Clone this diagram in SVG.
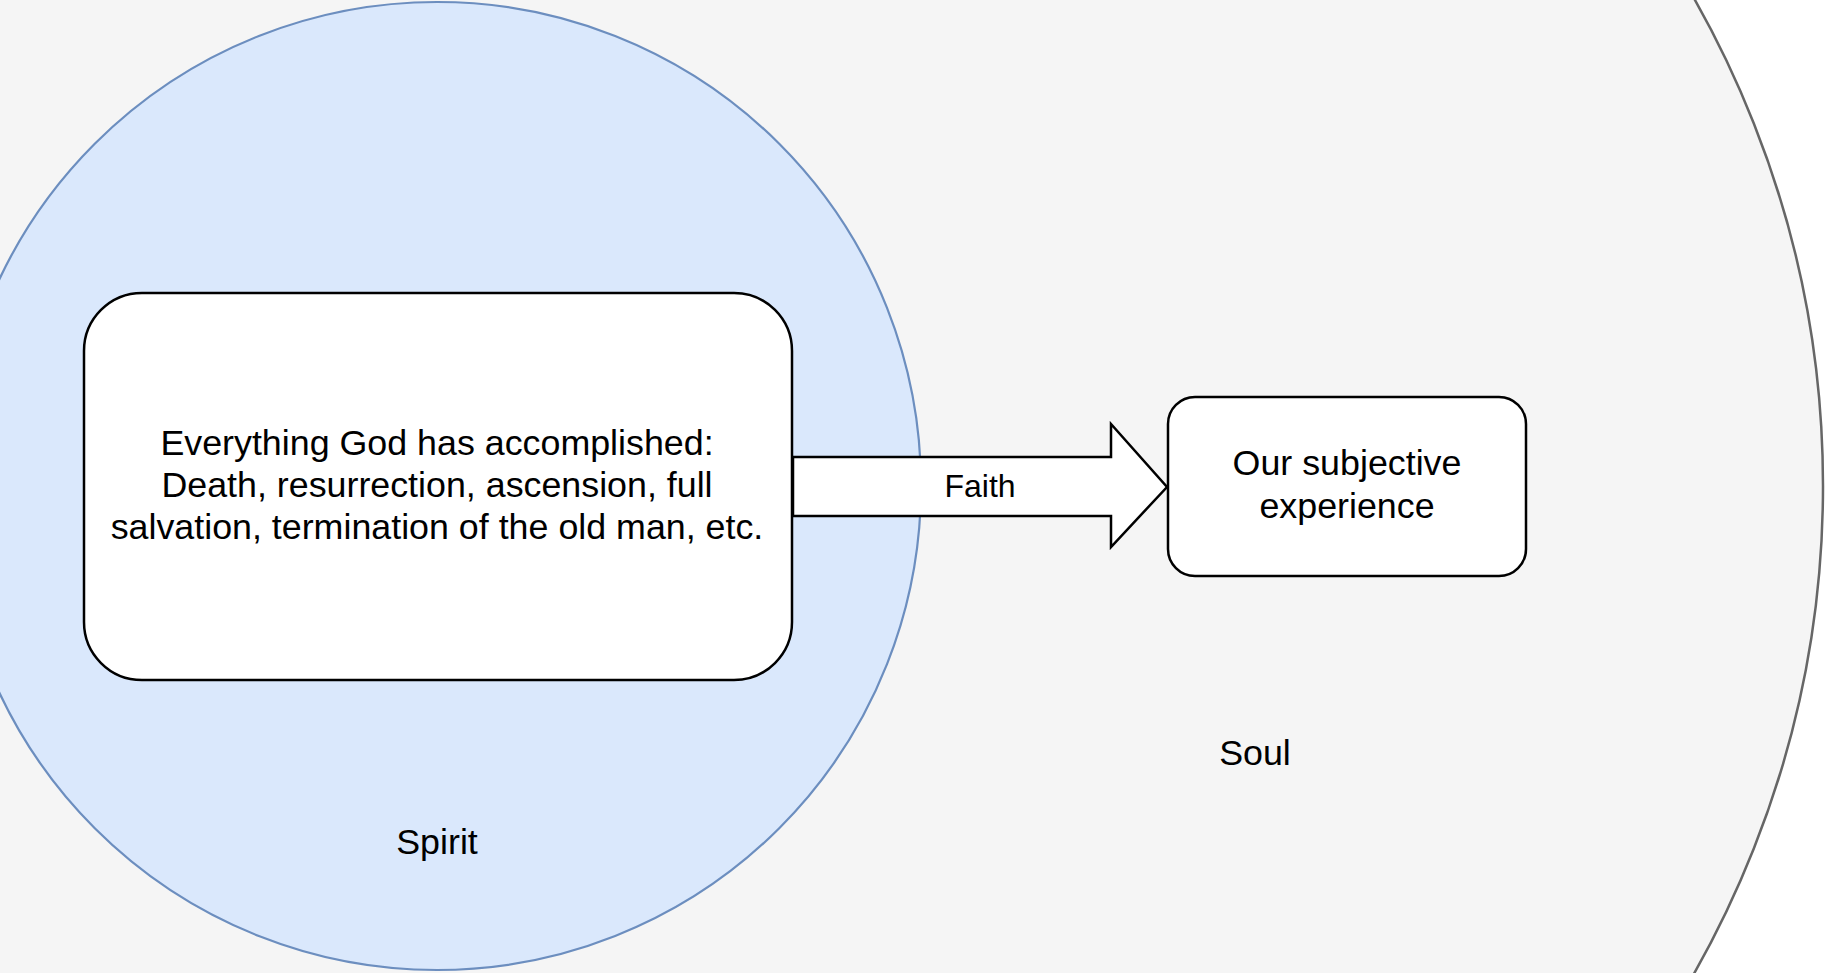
<svg xmlns="http://www.w3.org/2000/svg" width="1838" height="973" viewBox="0 0 1838 973">
<style>
.t{font-family:"Liberation Sans",Arial,sans-serif;fill:#000;text-anchor:middle}
.big{font-size:35.8px}
.lbl{font-size:32px}
.box{fill:#ffffff;stroke:#000;stroke-width:2.5}
</style>
<rect x="0" y="0" width="1838" height="973" fill="#ffffff"/>
<g id="soul">
<circle cx="838" cy="486" r="985" fill="#f5f5f5" stroke="#666666" stroke-width="2.5"/>
<text class="t big" x="1255" y="765">Soul</text>
</g>
<g id="spirit">
<circle cx="437" cy="486" r="484" fill="#dae8fc" stroke="#6c8ebf" stroke-width="2.2"/>
<text class="t big" x="437" y="854">Spirit</text>
</g>
<g id="accomplished">
<rect class="box" x="84" y="293" width="708" height="387" rx="58" ry="58"/>
<text class="t big" x="437" y="455">Everything God has accomplished:</text>
<text class="t big" x="437" y="497">Death, resurrection, ascension, full</text>
<text class="t big" x="437" y="539">salvation, termination of the old man, etc.</text>
</g>
<g id="experience">
<rect class="box" x="1168" y="397" width="358" height="179" rx="27" ry="27"/>
<text class="t big" x="1347" y="475">Our subjective</text>
<text class="t big" x="1347" y="518">experience</text>
</g>
<g id="connectors">
<path d="M793,457 L1111,457 L1111,424 L1167,487 L1111,547 L1111,516 L793,516 Z" fill="#ffffff" stroke="#000" stroke-width="2.5" stroke-linejoin="miter"/>
<text class="t lbl" x="980" y="497">Faith</text>
</g>
</svg>
